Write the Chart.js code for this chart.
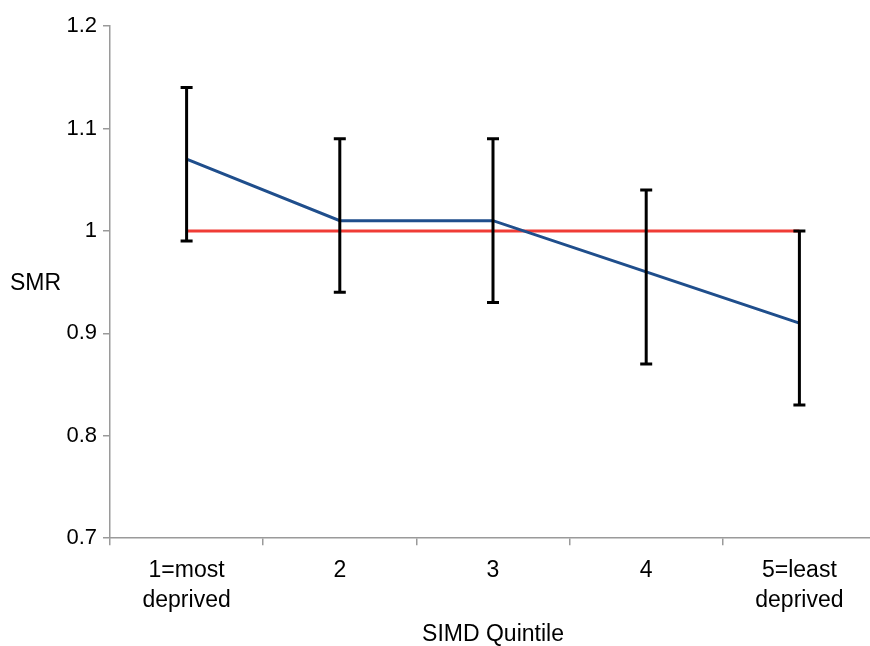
<!DOCTYPE html>
<html>
<head>
<meta charset="utf-8">
<script src="https://cdn.jsdelivr.net/npm/chart.js@4.4.1/dist/chart.umd.min.js"></script>
<style>
  html, body { margin: 0; padding: 0; background: #fff; overflow: hidden; }
  #wrap { width: 876px; height: 646px; }
</style>
</head>
<body>
<div id="wrap"><canvas id="smr-chart"></canvas></div>
<script>
var quintiles = [["1=most", "deprived"], "2", "3", "4", ["5=least", "deprived"]];
var smr = [1.07, 1.01, 1.01, 0.96, 0.91];
var ciLow = [0.99, 0.94, 0.93, 0.87, 0.83];
var ciHigh = [1.14, 1.09, 1.09, 1.04, 1.00];
var reference = [1, 1, 1, 1, 1];
var yTicks = [0.7, 0.8, 0.9, 1, 1.1, 1.2];

var fontName = "'Liberation Sans', Arial, Helvetica, sans-serif";
var axisGrey = '#9a9a9a';

// error bars + horizontal "SMR" label
var errorBars = {
    id: 'errorBars',
    afterDatasetsDraw: function (chart) {
        var ctx = chart.ctx;
        var xs = chart.scales.x, ys = chart.scales.y;
        ctx.save();
        ctx.strokeStyle = '#000';
        ctx.lineWidth = 3;
        for (var i = 0; i < smr.length; i++) {
            var x = xs.getPixelForValue(i);
            var lo = ys.getPixelForValue(ciLow[i]);
            var hi = ys.getPixelForValue(ciHigh[i]);
            ctx.beginPath();
            ctx.moveTo(x, lo); ctx.lineTo(x, hi);
            ctx.moveTo(x - 6, lo); ctx.lineTo(x + 6, lo);
            ctx.moveTo(x - 6, hi); ctx.lineTo(x + 6, hi);
            ctx.stroke();
        }
        ctx.restore();
    },
    afterDraw: function (chart) {
        var ctx = chart.ctx;
        var area = chart.chartArea;
        ctx.save();
        ctx.fillStyle = '#000';
        ctx.font = '23px ' + fontName;
        ctx.textAlign = 'left';
        ctx.textBaseline = 'middle';
        ctx.fillText('SMR', 10, (area.top + area.bottom) / 2 + 2);
        ctx.restore();
    }
};

new Chart(document.getElementById("smr-chart"), {
    type: 'line',
    data: {
        labels: quintiles,
        datasets: [
            {
                label: 'SMR',
                data: smr,
                borderColor: '#1f4e8c',
                borderWidth: 3,
                pointRadius: 0,
                fill: false,
                tension: 0
            },
            {
                label: 'Reference',
                data: reference,
                borderColor: '#f03c36',
                borderWidth: 3,
                pointRadius: 0,
                fill: false,
                tension: 0
            }
        ]
    },
    options: {
        responsive: true,
        maintainAspectRatio: false,
        animation: false,
        layout: { padding: { top: 26, right: 0, bottom: 0, left: 0 } },
        plugins: {
            legend: { display: false },
            tooltip: { enabled: false }
        },
        scales: {
            x: {
                offset: true,
                grid: {
                    offset: true,
                    drawOnChartArea: false,
                    color: axisGrey,
                    tickLength: 7,
                    lineWidth: 1.5
                },
                border: { color: axisGrey, width: 1.5 },
                ticks: {
                    color: '#000',
                    padding: 11,
                    maxRotation: 0,
                    autoSkip: false,
                    font: { family: fontName, size: 23, lineHeight: 1.3 }
                },
                title: {
                    display: true,
                    text: 'SIMD Quintile',
                    color: '#000',
                    padding: { top: -4, bottom: 0 },
                    font: { family: fontName, size: 23, lineHeight: 1.0 }
                }
            },
            y: {
                min: 0.7,
                max: 1.2,
                afterFit: function (scale) { scale.width = 110; },
                afterBuildTicks: function (scale) {
                    scale.ticks = yTicks.map(function (v) { return { value: v }; });
                },
                grid: {
                    drawOnChartArea: false,
                    color: axisGrey,
                    tickLength: 7,
                    lineWidth: 1.5
                },
                border: { color: axisGrey, width: 1.5 },
                ticks: {
                    color: '#000',
                    padding: 6,
                    font: { family: fontName, size: 22 },
                    callback: function (value) {
                        return String(Math.round(value * 10) / 10);
                    }
                }
            }
        }
    },
    plugins: [errorBars]
});
</script>
</body>
</html>
